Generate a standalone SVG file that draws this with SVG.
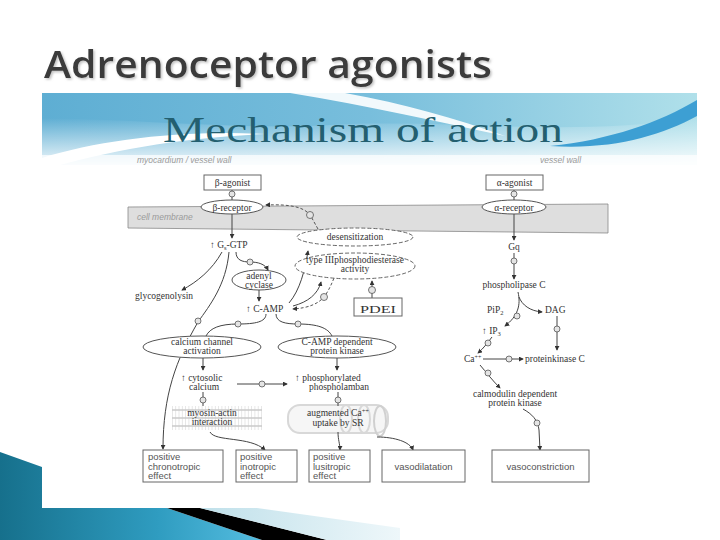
<svg xmlns="http://www.w3.org/2000/svg" width="720" height="540" viewBox="0 0 720 540">
<defs>
<style>
.ser{font-family:"Liberation Serif","Times New Roman",serif;font-size:9.5px;fill:#333}
.sans{font-family:"Liberation Sans",Arial,sans-serif;font-size:9.5px;fill:#555}
.ital{font-family:"Liberation Sans",Arial,sans-serif;font-style:italic;font-size:8.5px;fill:#9a9a9a}
.ln{fill:none;stroke:#444;stroke-width:1}
.dl{fill:none;stroke:#555;stroke-width:1;stroke-dasharray:3 2}
.box{fill:#fff;stroke:#666;stroke-width:1}
.ell{fill:#fff;stroke:#555;stroke-width:1}
.dell{fill:#fff;stroke:#666;stroke-width:1;stroke-dasharray:4 2}
.cir{fill:#e4e4e4;stroke:#555;stroke-width:0.8}
</style>
<marker id="ah" viewBox="0 0 6 6" refX="5" refY="3" markerWidth="5" markerHeight="5" orient="auto"><path d="M0,0 L6,3 L0,6 z" fill="#333"/></marker>
<linearGradient id="hdr" x1="0" y1="0" x2="1" y2="0"><stop offset="0" stop-color="#5eaed3"/><stop offset="0.5" stop-color="#78bedc"/><stop offset="1" stop-color="#b0e0ea"/></linearGradient>
<linearGradient id="hdrv" x1="0" y1="0" x2="0" y2="1"><stop offset="0" stop-color="#fff" stop-opacity="0"/><stop offset="1" stop-color="#fff" stop-opacity="0.9"/></linearGradient>
<linearGradient id="teal" x1="0" y1="0" x2="1" y2="0"><stop offset="0" stop-color="#16708c"/><stop offset="0.6" stop-color="#2f9cc0"/><stop offset="1" stop-color="#55bde0"/></linearGradient>
<linearGradient id="lb" x1="0" y1="0" x2="1" y2="0"><stop offset="0" stop-color="#bfe0ea"/><stop offset="1" stop-color="#eef7fa"/></linearGradient>
<filter id="sh" x="-5%" y="-20%" width="110%" height="140%"><feDropShadow dx="1.5" dy="1.5" stdDeviation="0.8" flood-color="#999" flood-opacity="0.6"/></filter>
</defs>
<rect width="720" height="540" fill="#fff"/>
<text x="44" y="78" font-family="Open Sans, Liberation Sans, sans-serif" font-weight="600" font-size="37" fill="#3a3a3a" textLength="448" lengthAdjust="spacingAndGlyphs" filter="url(#sh)">Adrenoceptor agonists</text>
<g id="header">
<rect x="42" y="93" width="655" height="72" fill="url(#hdr)"/>
<path d="M42,118 C150,120 250,130 330,125 C450,118 560,138 697,118 L697,165 L42,165 Z" fill="url(#hdrv)"/>
<path d="M290,93 L345,93 C405,104 455,118 505,136 C440,122 370,106 290,93 Z" fill="#fff" opacity="0.9"/>
<path d="M550,146 C610,140 660,122 697,100 L697,116 C660,136 612,150 550,146 Z" fill="#3d9fd3"/>
<path d="M42,158 C100,140 180,130 265,134 C180,138 110,150 42,170 Z" fill="#fff"/>
<rect x="42" y="155" width="655" height="12" fill="#fff" opacity="0.7"/>
<text x="163" y="142" font-family="Liberation Serif, serif" font-size="36" fill="#235f70" textLength="400" lengthAdjust="spacingAndGlyphs">Mechanism of action</text>
</g>
<g id="corner">
<polygon points="0,452 42,467 42,508 167,508 262,540 0,540" fill="url(#teal)"/>
<polygon points="167,508 200,508 327,540 262,540" fill="#000"/>
<polygon points="200,508 257,508 400,528 400,540 327,540" fill="url(#lb)"/>
</g>
<text class="ital" x="137" y="163">myocardium / vessel wall</text>
<text class="ital" x="540" y="163">vessel wall</text>
<g id="membrane">
<polygon points="128,207 608,204 608,233 128,228" fill="#dedede" stroke="#888" stroke-width="0.8"/>
<text class="ital" x="137" y="220" font-size="9">cell membrane</text>
</g>
<g id="decor">
<line x1="172" y1="418" x2="262" y2="418" stroke="#e2e2e2" stroke-width="24" stroke-dasharray="0.8 2.5"/>
<line x1="172" y1="410" x2="262" y2="410" stroke="#cacaca" stroke-width="1.5"/>
<line x1="172" y1="418" x2="262" y2="418" stroke="#cacaca" stroke-width="1.5"/>
<line x1="172" y1="426" x2="262" y2="426" stroke="#cacaca" stroke-width="1.5"/>
<rect x="288" y="405" width="100" height="28" rx="12" fill="#f6f6f6" stroke="#d8d8d8" stroke-width="2"/>
<ellipse cx="346" cy="419" rx="6" ry="14" fill="none" stroke="#d8d8d8" stroke-width="2"/>
<ellipse cx="364" cy="419" rx="6" ry="14" fill="none" stroke="#d8d8d8" stroke-width="2"/>
<ellipse cx="380" cy="421" rx="6" ry="15" fill="none" stroke="#d0d0d0" stroke-width="2"/>
</g>
<g id="connectors">
<line class="ln" x1="232" y1="190" x2="232" y2="200"/>
<line class="ln" x1="514" y1="190" x2="514" y2="200"/>
<line class="ln" x1="232" y1="214" x2="232" y2="238" marker-end="url(#ah)"/>
<line class="ln" x1="514" y1="214" x2="514" y2="240" marker-end="url(#ah)"/>
<line class="ln" x1="514" y1="253" x2="514" y2="279" marker-end="url(#ah)"/>
<path class="dl" d="M318,229 C314,222 312,218 310,215 C304,207 290,204 266,205" marker-end="url(#ah)"/>
<path class="ln" d="M222,252 C212,270 197,282 182,290" marker-end="url(#ah)"/>
<path class="ln" d="M229,252 C226,285 210,305 198,322 C176,360 163,395 163,449" marker-end="url(#ah)"/>
<path class="ln" d="M236,252 C236,260 242,262 250,262 C258,262 265,264 268,270" marker-end="url(#ah)"/>
<line class="ln" x1="259" y1="290" x2="259" y2="301" marker-end="url(#ah)"/>
<path class="ln" d="M289,303 C300,290 305,270 308,251" marker-end="url(#ah)"/>
<path class="ln" d="M293,306 C308,302 318,294 321,282" marker-end="url(#ah)"/>
<path class="dl" d="M334,278 C330,288 327,293 324,297 C318,304 308,308 293,309" marker-end="url(#ah)"/>
<line class="ln" x1="372" y1="298" x2="372" y2="281" marker-end="url(#ah)"/>
<path class="ln" d="M266,314 C266,322 255,324 238,324 C220,324 210,328 206,336"/>
<path class="ln" d="M276,314 C276,322 285,324 298,324 C318,324 328,328 332,336"/>
<line class="ln" x1="203" y1="358" x2="203" y2="370" marker-end="url(#ah)"/>
<line class="ln" x1="337" y1="358" x2="337" y2="370" marker-end="url(#ah)"/>
<line class="ln" x1="237" y1="384" x2="287" y2="384" marker-end="url(#ah)"/>
<line class="ln" x1="203" y1="392" x2="203" y2="406"/>
<line class="ln" x1="338" y1="392" x2="338" y2="406"/>
<path class="ln" d="M210,432 C215,442 250,436 265,450" marker-end="url(#ah)"/>
<path class="ln" d="M338,432 C338,440 340,444 340,450" marker-end="url(#ah)"/>
<path class="ln" d="M377,437 C395,437 410,442 413,450" marker-end="url(#ah)"/>
<path class="ln" d="M518,292 C521,305 518,316 505,326" marker-end="url(#ah)"/>
<path class="ln" d="M519,297 C522,305 530,311 542,312" marker-end="url(#ah)"/>
<path class="ln" d="M492,337 C488,342 484,348 478,353" marker-end="url(#ah)"/>
<line class="ln" x1="483" y1="359" x2="523" y2="359" marker-end="url(#ah)"/>
<line class="ln" x1="557" y1="316" x2="557" y2="350" marker-end="url(#ah)"/>
<path class="ln" d="M480,365 C486,372 492,380 500,388" marker-end="url(#ah)"/>
<path class="ln" d="M523,409 C532,414 538,420 539,430 L540,450" marker-end="url(#ah)"/>
<circle class="cir" cx="232" cy="194" r="3"/>
<circle class="cir" cx="514" cy="194" r="3"/>
<circle class="cir" cx="514" cy="261" r="3"/>
<circle class="cir" cx="310" cy="215" r="3.5"/>
<circle class="cir" cx="198" cy="321" r="3"/>
<circle class="cir" cx="250" cy="262" r="3"/>
<circle class="cir" cx="324" cy="297" r="3.5"/>
<circle class="cir" cx="372" cy="290" r="3.5"/>
<circle class="cir" cx="238" cy="324" r="3"/>
<circle class="cir" cx="298" cy="324" r="3"/>
<circle class="cir" cx="262" cy="384" r="3"/>
<circle class="cir" cx="203" cy="400" r="3"/>
<circle class="cir" cx="338" cy="400" r="3"/>
<circle class="cir" cx="517" cy="316" r="3"/>
<circle class="cir" cx="488" cy="343" r="3"/>
<circle class="cir" cx="509" cy="359" r="3"/>
<circle class="cir" cx="557" cy="329" r="3"/>
<circle class="cir" cx="488" cy="373" r="3"/>
<circle class="cir" cx="537" cy="423" r="3"/>
</g>
<g id="beta-agonist"><rect class="box" x="204" y="175" width="57" height="15"/><text class="ser" x="232.5" y="186" text-anchor="middle">β-agonist</text></g>
<g id="alpha-agonist"><rect class="box" x="486" y="175" width="57" height="15"/><text class="ser" x="514.5" y="186" text-anchor="middle">α-agonist</text></g>
<g id="beta-receptor"><ellipse class="ell" cx="232" cy="207" rx="31" ry="7"/><text class="ser" x="232" y="210.5" text-anchor="middle">β-receptor</text></g>
<g id="alpha-receptor"><ellipse class="ell" cx="514" cy="207" rx="32" ry="7"/><text class="ser" x="514" y="210.5" text-anchor="middle" font-size="9">α-receptor</text></g>
<g id="desensitization"><ellipse class="dell" cx="355" cy="237" rx="58" ry="9"/><text class="ser" x="355" y="240" text-anchor="middle">desensitization</text></g>
<g id="pde3"><ellipse class="dell" cx="355" cy="266" rx="60" ry="13"/><text class="ser" x="355" y="263" text-anchor="middle">type IIIphosphodiesterase</text><text class="ser" x="355" y="272" text-anchor="middle">activity</text></g>
<g id="pdei"><rect class="box" x="354" y="298" width="48" height="18" stroke="#444"/><text class="ser" x="378" y="312.5" text-anchor="middle" font-size="14.5" textLength="36" lengthAdjust="spacingAndGlyphs">PDEI</text></g>
<g id="gs-gtp"><text class="ser" x="210" y="248">↑ G<tspan font-size="6.5" dy="2">s</tspan><tspan dy="-2">-GTP</tspan></text></g>
<g id="glycogenolysis"><text class="ser" x="135" y="299">glycogenolysin</text></g>
<g id="adenyl-cyclase"><ellipse class="ell" cx="259" cy="280" rx="27" ry="10"/><text class="ser" x="259" y="278.5" text-anchor="middle">adenyl</text><text class="ser" x="259" y="288" text-anchor="middle">cyclase</text></g>
<g id="camp"><text class="ser" x="246" y="312">↑ C-AMP</text></g>
<g id="calcium-channel"><ellipse class="ell" cx="202" cy="347" rx="59" ry="11"/><text class="ser" x="202" y="345" text-anchor="middle">calcium channel</text><text class="ser" x="202" y="354" text-anchor="middle">activation</text></g>
<g id="camp-pk"><ellipse class="ell" cx="337" cy="347" rx="59" ry="11"/><text class="ser" x="337" y="345" text-anchor="middle">C-AMP dependent</text><text class="ser" x="337" y="354" text-anchor="middle">protein kinase</text></g>
<g id="cytosolic"><text class="ser" x="181" y="381">↑ cytosolic</text><text class="ser" x="204" y="390" text-anchor="middle">calcium</text></g>
<g id="phospholamban"><text class="ser" x="295" y="381">↑ phosphorylated</text><text class="ser" x="339" y="390" text-anchor="middle">phospholamban</text></g>
<g id="myosin"><text class="ser" x="212" y="416" text-anchor="middle">myosin-actin</text><text class="ser" x="212" y="425" text-anchor="middle">interaction</text></g>
<g id="sr"><text class="ser" x="338" y="416" text-anchor="middle">augmented Ca<tspan font-size="6.5" dy="-3">++</tspan></text><text class="ser" x="338" y="426" text-anchor="middle">uptake by SR</text></g>
<g id="gq"><text class="ser" x="514" y="250" text-anchor="middle">Gq</text></g>
<g id="plc"><text class="ser" x="514" y="288" text-anchor="middle">phospholipase C</text></g>
<g id="pip2"><text class="ser" x="487" y="313">PiP<tspan font-size="6.5" dy="2">2</tspan></text></g>
<g id="dag"><text class="ser" x="545" y="313">DAG</text></g>
<g id="ip3"><text class="ser" x="482" y="334">↑ IP<tspan font-size="6.5" dy="2">3</tspan></text></g>
<g id="ca"><text class="ser" x="464" y="362" font-size="8.5">Ca<tspan font-size="6" dy="-3">++</tspan></text></g>
<g id="pkc"><text class="ser" x="525" y="362">proteinkinase C</text></g>
<g id="calmodulin"><text class="ser" x="515" y="397" text-anchor="middle">calmodulin dependent</text><text class="ser" x="515" y="406" text-anchor="middle">protein kinase</text></g>
<g id="chronotropic"><rect class="box" x="143" y="450" width="80" height="32"/><text class="sans" x="148" y="460">positive</text><text class="sans" x="148" y="469.5">chronotropic</text><text class="sans" x="148" y="479">effect</text></g>
<g id="inotropic"><rect class="box" x="236" y="450" width="61" height="32"/><text class="sans" x="240" y="460">positive</text><text class="sans" x="240" y="469.5">inotropic</text><text class="sans" x="240" y="479">effect</text></g>
<g id="lusitropic"><rect class="box" x="309" y="450" width="61" height="32"/><text class="sans" x="313" y="460">positive</text><text class="sans" x="313" y="469.5">lusitropic</text><text class="sans" x="313" y="479">effect</text></g>
<g id="vasodilatation"><rect class="box" x="382" y="450" width="83" height="32"/><text class="sans" x="423.5" y="470" text-anchor="middle">vasodilatation</text></g>
<g id="vasoconstriction"><rect class="box" x="492" y="450" width="97" height="32"/><text class="sans" x="540.5" y="470" text-anchor="middle">vasoconstriction</text></g>
</svg>
